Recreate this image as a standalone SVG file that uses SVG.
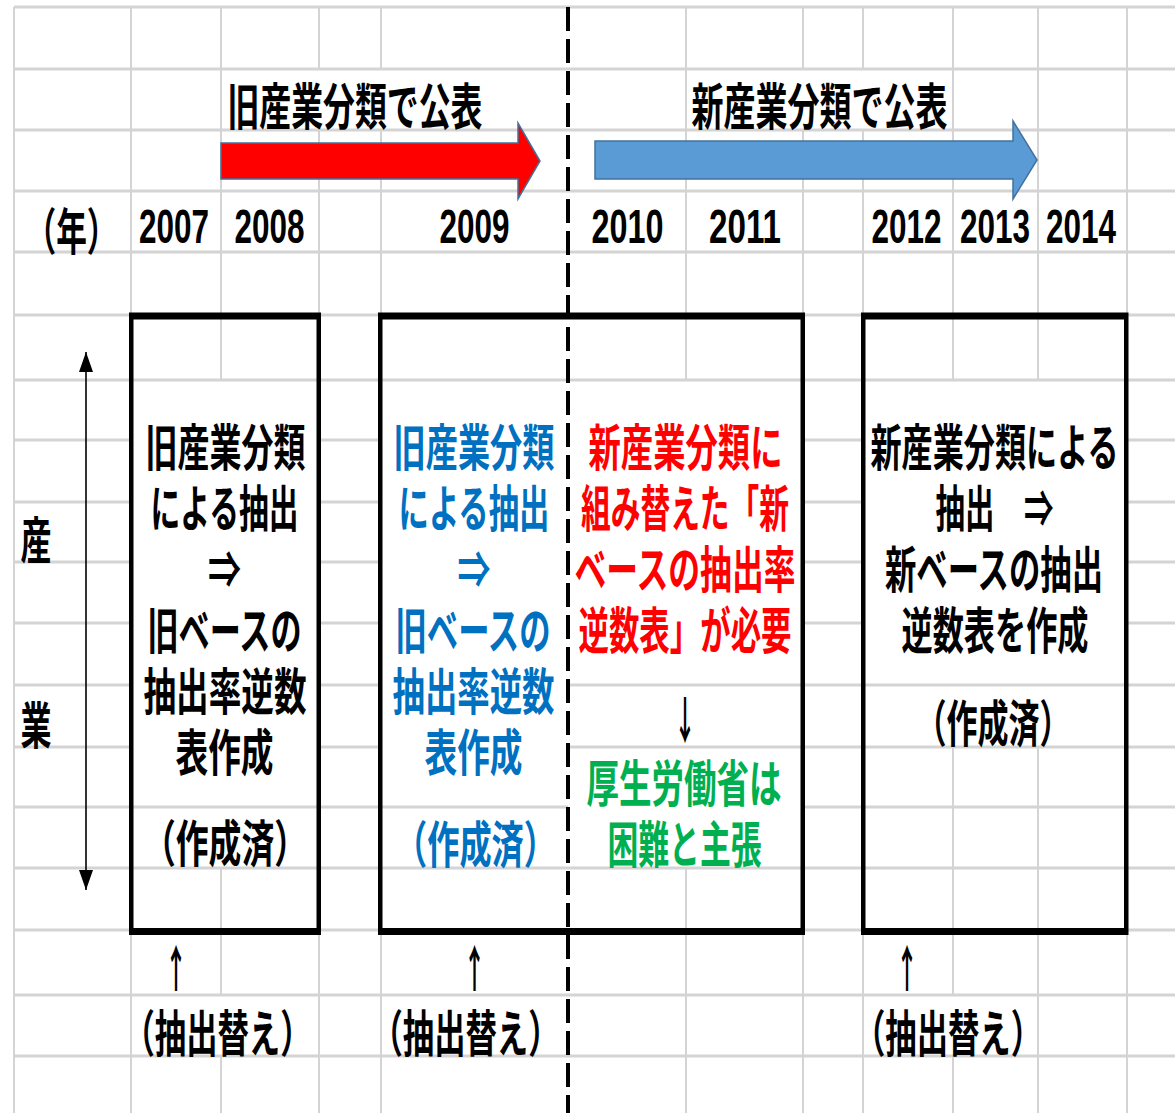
<svg xmlns="http://www.w3.org/2000/svg" width="1175" height="1113" viewBox="0 0 1175 1113">
<style>
.gh{fill:none;stroke:#d4d4d4;stroke-width:3}
.gv{fill:none;stroke:#d4d4d4;stroke-width:2}
.box{fill:#000;fill-rule:evenodd;stroke:none}
.jp{font-family:"Noto Sans CJK JP","Noto Sans CJK SC",sans-serif;font-weight:700;font-size:50px;text-anchor:middle;dominant-baseline:central}
.num{font-family:"Liberation Sans",Arial,sans-serif;font-weight:700;font-size:49px;text-anchor:middle}
.k{fill:#000}.bl{fill:#0070C0}.rd{fill:#FF0000}.gr{fill:#00B050}
.band{stroke:#41719C;stroke-width:1.5}
.axis{stroke:#000;stroke-width:1.6;fill:none}
.divider{stroke:#000;stroke-width:4;stroke-dasharray:24 8;fill:none}
</style>
<defs>
<marker id="ah" markerUnits="userSpaceOnUse" viewBox="0 0 20 14" refX="20" refY="7" markerWidth="20" markerHeight="14" orient="auto-start-reverse">
<path d="M0,0 L20,7 L0,14 Z" fill="#000"/>
</marker>
</defs>
<rect x="0" y="0" width="1175" height="1113" fill="#fff"/>
<g id="grid">
<path class="gh" d="M14 7H1175M14 69H1175M14 130H1175M14 191H1175M14 252H1175M14 315H1175M14 380H1175
M14 440H131M319 440H381M803 440H863M1127 440H1175
M14 502H131M319 502H381M803 502H863M1127 502H1175
M14 562H131M319 562H381M803 562H863M1127 562H1175
M14 623H131M319 623H381M803 623H863M1127 623H1175
M14 685H131M319 685H381M568 685H1175
M14 747H131M319 747H381M568 747H1175
M14 807H568M803 807H1175
M14 868H1175M14 930H1175M14 995H1175M14 1056H1175"/>
<path class="gv" d="M14 7V1113M131 7V1113
M221 7V380M221 868V995M221 1056V1113
M319 7V69M319 130V1113
M381 7V69M381 130V1113
M686 7V380M686 868V1113
M803 7V69M803 130V1113
M863 7V69M863 130V1113
M953 7V380M953 747V995M953 1056V1113
M1038 7V380M1038 747V1113
M1127 7V1113"/>
</g>
<g id="old-classification">
<text class="jp k" x="355" y="103" textLength="255" lengthAdjust="spacingAndGlyphs">旧産業分類で公表</text>
<path class="band" fill="#FF0000" d="M221,143H518V123L540,161L518,199V179H221Z"/>
</g>
<g id="new-classification">
<text class="jp k" x="819.5" y="103" textLength="256" lengthAdjust="spacingAndGlyphs">新産業分類で公表</text>
<path class="band" fill="#5B9BD5" d="M595,141H1013V121L1037,160L1013,199V179H595Z"/>
</g>
<g id="years">
<text class="jp k" x="71.5" y="228" textLength="92" lengthAdjust="spacingAndGlyphs">（年）</text>
<text class="num" x="174" y="243" textLength="70" lengthAdjust="spacingAndGlyphs">2007</text>
<text class="num" x="269.5" y="243" textLength="70" lengthAdjust="spacingAndGlyphs">2008</text>
<text class="num" x="474.5" y="243" textLength="70" lengthAdjust="spacingAndGlyphs">2009</text>
<text class="num" x="627.5" y="243" textLength="72" lengthAdjust="spacingAndGlyphs">2010</text>
<text class="num" x="745" y="243" textLength="72" lengthAdjust="spacingAndGlyphs">2011</text>
<text class="num" x="906.5" y="243" textLength="70" lengthAdjust="spacingAndGlyphs">2012</text>
<text class="num" x="995" y="243" textLength="70" lengthAdjust="spacingAndGlyphs">2013</text>
<text class="num" x="1081" y="243" textLength="70" lengthAdjust="spacingAndGlyphs">2014</text>
</g>
<g id="industry-axis">
<text class="jp k" x="36" y="537" textLength="31" lengthAdjust="spacingAndGlyphs">産</text>
<text class="jp k" x="36" y="722" textLength="31" lengthAdjust="spacingAndGlyphs">業</text>
</g>
<g id="box-old">
<path class="box" d="M129,312.5H321V935H129ZM133.5,319.5V928H316.5V319.5Z"/>
<text class="jp k" x="225.5" y="444" textLength="160" lengthAdjust="spacingAndGlyphs">旧産業分類</text>
<text class="jp k" x="224.5" y="505" textLength="148" lengthAdjust="spacingAndGlyphs">による抽出</text>
<text class="jp k" x="224.5" y="566" textLength="33" lengthAdjust="spacingAndGlyphs">⇒</text>
<text class="jp k" x="224.5" y="627" textLength="154" lengthAdjust="spacingAndGlyphs">旧ベースの</text>
<text class="jp k" x="225" y="688" textLength="163" lengthAdjust="spacingAndGlyphs">抽出率逆数</text>
<text class="jp k" x="224.5" y="749" textLength="98" lengthAdjust="spacingAndGlyphs">表作成</text>
<text class="jp k" x="225" y="840" textLength="164" lengthAdjust="spacingAndGlyphs">（作成済）</text>
</g>
<g id="box-transition">
<path class="box" d="M378,312.5H805V935H378ZM382.5,319.5V928H800.5V319.5Z"/>
<text class="jp bl" x="474" y="444" textLength="161" lengthAdjust="spacingAndGlyphs">旧産業分類</text>
<text class="jp bl" x="474" y="505" textLength="151" lengthAdjust="spacingAndGlyphs">による抽出</text>
<text class="jp bl" x="474" y="566" textLength="33" lengthAdjust="spacingAndGlyphs">⇒</text>
<text class="jp bl" x="473" y="627" textLength="155" lengthAdjust="spacingAndGlyphs">旧ベースの</text>
<text class="jp bl" x="473.5" y="688" textLength="162" lengthAdjust="spacingAndGlyphs">抽出率逆数</text>
<text class="jp bl" x="473.5" y="749" textLength="98" lengthAdjust="spacingAndGlyphs">表作成</text>
<text class="jp bl" x="475.5" y="841" textLength="161" lengthAdjust="spacingAndGlyphs">（作成済）</text>
<text class="jp rd" x="685.5" y="444" textLength="194" lengthAdjust="spacingAndGlyphs">新産業分類に</text>
<text class="jp rd" x="685" y="505" textLength="208" lengthAdjust="spacingAndGlyphs">組み替えた「新</text>
<text class="jp rd" x="685" y="566" textLength="221" lengthAdjust="spacingAndGlyphs">ベースの抽出率</text>
<text class="jp rd" x="685" y="627" textLength="213" lengthAdjust="spacingAndGlyphs">逆数表」が必要</text>
<text class="jp k" x="685" y="717" textLength="22" lengthAdjust="spacingAndGlyphs">↓</text>
<text class="jp gr" x="684" y="780" textLength="195" lengthAdjust="spacingAndGlyphs">厚生労働省は</text>
<text class="jp gr" x="684.5" y="841" textLength="154" lengthAdjust="spacingAndGlyphs">困難と主張</text>
</g>
<g id="box-new">
<path class="box" d="M861,312.5H1128.5V935H861ZM865.5,319.5V928H1124V319.5Z"/>
<text class="jp k" x="994.5" y="444" textLength="248" lengthAdjust="spacingAndGlyphs">新産業分類による</text>
<text class="jp k" x="994.5" y="505" textLength="118" lengthAdjust="spacingAndGlyphs">抽出　⇒</text>
<text class="jp k" x="994" y="566" textLength="218" lengthAdjust="spacingAndGlyphs">新ベースの抽出</text>
<text class="jp k" x="995" y="627" textLength="187" lengthAdjust="spacingAndGlyphs">逆数表を作成</text>
<text class="jp k" x="993" y="720" textLength="155" lengthAdjust="spacingAndGlyphs">（作成済）</text>
</g>
<g id="replacement-notes">
<text class="jp k" x="176" y="965" textLength="22" lengthAdjust="spacingAndGlyphs">↑</text>
<text class="jp k" x="474.5" y="965" textLength="22" lengthAdjust="spacingAndGlyphs">↑</text>
<text class="jp k" x="907" y="965" textLength="22" lengthAdjust="spacingAndGlyphs">↑</text>
<text class="jp k" x="217.5" y="1030" textLength="188" lengthAdjust="spacingAndGlyphs">（抽出替え）</text>
<text class="jp k" x="465.5" y="1030" textLength="188" lengthAdjust="spacingAndGlyphs">（抽出替え）</text>
<text class="jp k" x="948" y="1030" textLength="188" lengthAdjust="spacingAndGlyphs">（抽出替え）</text>
</g>
<g id="connectors">
<line class="axis" x1="86" y1="352" x2="86" y2="890" marker-start="url(#ah)" marker-end="url(#ah)"/>
<line class="divider" x1="568" y1="7" x2="568" y2="1113"/>
</g>
</svg>
